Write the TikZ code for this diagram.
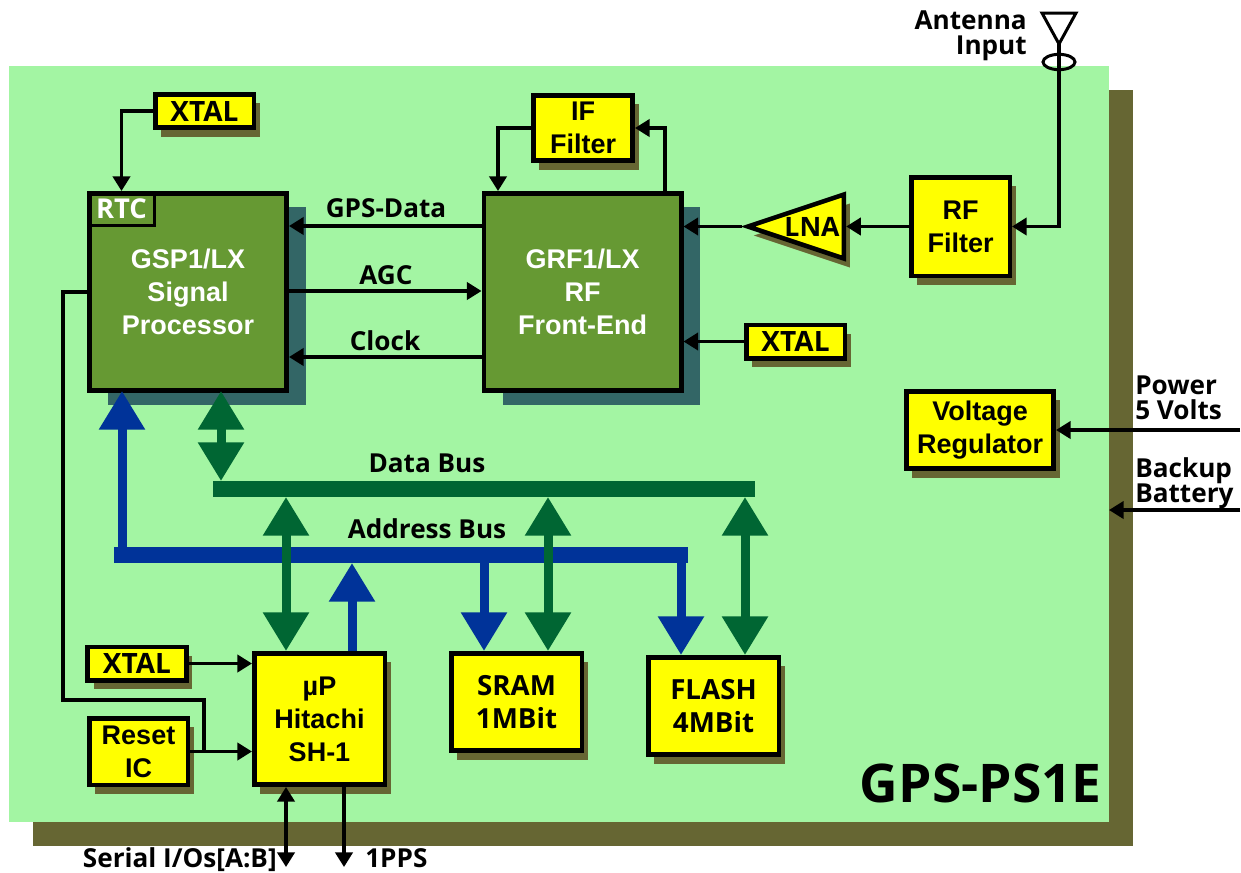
\documentclass[tikz,border=0pt]{standalone}
\usepackage{fontspec}
\setmainfont{Liberation Sans}
\newfontfamily\tagfont{Open Sans}
\usetikzlibrary{arrows.meta,shapes.geometric,shadows}

\definecolor{boardgreen}{HTML}{A3F5A3}
\definecolor{olive}{HTML}{666633}
\definecolor{chipgreen}{HTML}{669933}
\definecolor{chipshade}{HTML}{336666}
\definecolor{blockyellow}{HTML}{FFFF00}
\definecolor{databus}{HTML}{006633}
\definecolor{addrbus}{HTML}{003399}

\tikzset{
    box/.style={draw=black, line width=3.4pt, fill=blockyellow, inner sep=0pt, align=center,
        font=\bfseries\fontsize{20.25}{24.75}\selectfont,
        drop shadow={shadow xshift=4.5pt, shadow yshift=-6.75pt, fill=olive, opacity=1}},
    xtal/.style={box, minimum width=73.9pt, minimum height=25.1pt,
        font=\tagfont\bfseries\fontsize{21}{24}\selectfont},
    mem/.style={box, minimum width=97.9pt, minimum height=73.1pt,
        font=\tagfont\bfseries\fontsize{20.8}{24.75}\selectfont},
    chip/.style={draw=black, line width=3.4pt, fill=chipgreen, text=white, inner sep=0pt, align=center,
        minimum width=148.1pt, minimum height=148.1pt,
        font=\bfseries\fontsize{20.25}{24.75}\selectfont,
        drop shadow={shadow xshift=14.25pt, shadow yshift=-10.5pt, fill=chipshade, opacity=1}},
    tag/.style={inner sep=0pt, font=\tagfont\bfseries\fontsize{19.6}{18.75}\selectfont},
    sig/.style={line width=2.4pt, -{Triangle[width=13pt,length=11pt]}},
    sigboth/.style={sig, {Triangle[width=13pt,length=11pt]}-{Triangle[width=13pt,length=11pt]}},
    wide/.style={line width=6.75pt, {Triangle[width=33pt,length=29pt]}-{Triangle[width=33pt,length=29pt]}},
    widein/.style={line width=6.75pt, -{Triangle[width=33pt,length=29pt]}},
    busbar/.style={inner sep=0pt, outer sep=0pt, minimum height=12pt},
}

\begin{document}
\begin{tikzpicture}[x=.75pt, y=-.75pt]
    \useasboundingbox (0,0) rectangle (1241,872);

    \fill[olive]      (33,90) rectangle (1133,846);
    \fill[boardgreen] (9,66)  rectangle (1109,822);

    % chips
    \node[chip] (gsp) at (188,292)   {GSP1/LX\\Signal\\Processor};
    \node[chip] (grf) at (582.5,292) {GRF1/LX\\RF\\Front-End};
    \node[draw=black, line width=2.25pt, text=white, anchor=north west, inner sep=0pt,
        minimum width=49.5pt, minimum height=24.75pt, font=\tagfont\bfseries\fontsize{20.5}{20}\selectfont]
        (rtc) at (gsp.north west) {RTC};

    % yellow blocks
    \node[xtal] (xtalrtc) at (204.5,111)  {XTAL};
    \node[xtal] (xtalrf)  at (795.5,341.5) {XTAL};
    \node[xtal] (xtalup)  at (137,663.5)  {XTAL};
    \node[box, minimum width=74.6pt, minimum height=49.1pt]  (iffilt) at (583,128)     {IF\\Filter};
    \node[box, minimum width=73.9pt, minimum height=73.9pt]  (rffilt) at (960.5,226.5) {RF\\Filter};
    \node[box, minimum width=110.6pt, minimum height=58.1pt] (vreg)   at (980,430)     {Voltage\\Regulator};
    \node[box, minimum width=73.9pt, minimum height=49.9pt]  (reset)  at (138.5,751.5) {Reset\\IC};
    \node[box, minimum width=97.9pt, minimum height=98.6pt]  (up)     at (319.5,719)   {µP\\Hitachi\\SH-1};
    \node[mem] (sram)  at (516.5,702) {SRAM\\1MBit};
    \node[mem] (flash) at (713.5,706) {FLASH\\4MBit};

    % LNA
    \node[box, isosceles triangle, isosceles triangle stretches, shape border rotate=180,
        minimum width=48pt, minimum height=72pt, anchor=apex] (lna) at (742,226.5) {};
    \node[inner sep=0pt, font=\tagfont\bfseries\fontsize{20}{24}\selectfont] (lnatext) at (812,227) {LNA};

    % buses
    \node[busbar, fill=databus, minimum width=406.5pt] (dbus) at (484,489) {};
    \node[busbar, fill=addrbus, minimum width=430.5pt] (abus) at (401,555) {};

    % antenna
    \coordinate (anttip) at (1059,44);
    \draw[line width=2.25pt, miter limit=4] (1042,13) -- (1076,13) -- (anttip) -- cycle;
    \node[draw=black, line width=2.25pt, ellipse, inner sep=0pt, minimum width=24pt, minimum height=11.5pt]
        (antloop) at (1059,62) {};

    \coordinate (serialend) at (286,867);
    \coordinate (ppsend)    at (344,867);
    \coordinate (pwrin)     at (1240,430);
    \coordinate (batin)     at (1240,510);
    \coordinate (batpin)    at (1109,510);
    \coordinate (rstjoin)   at (204,752);

    \path[sig]
    (xtalrtc.west) edge [to path={-| (\tikztotarget)}] (rtc.north)
    (iffilt.west)  edge [to path={-| (\tikztotarget)}] (grf.north -| 498,0)
    (grf.north -| 665,0) edge [to path={|- (\tikztotarget)}] (iffilt.east)
    (anttip)       edge [to path={|- (\tikztotarget)}] (rffilt.east)
    (rffilt.west)  edge (lna.east |- rffilt.west)
    (lna.apex)     edge (grf.east |- lna.apex)
    (xtalrf.west)  edge (grf.east |- xtalrf.west)
    (grf.west |- 0,226) edge (gsp.east |- 0,226)
    (gsp.east |- 0,291) edge (grf.west |- 0,291)
    (grf.west |- 0,357) edge (gsp.east |- 0,357)
    (xtalup.east)  edge (up.west |- xtalup.east)
    (reset.east)   edge (up.west |- reset.east)
    (up.south -| ppsend) edge (ppsend)
    (pwrin)        edge (vreg.east)
    (batin)        edge (batpin);

    \draw[sigboth] (up.south -| serialend) -- (serialend);
    \draw[draw=black, line width=2.4pt] (gsp.west) -| (63,700) -| (rstjoin);

    % data bus arrows
    \draw[wide, databus] ([yshift=1.5pt]gsp.south -| 221,0) -- (dbus.north -| 221,0);
    \draw[wide, databus] (dbus.south -| 286,0) -- (up.north -| 286,0);
    \draw[wide, databus] (dbus.south -| 548,0) -- (sram.north -| 548,0);
    \draw[wide, databus] (dbus.south -| 745,0) -- (flash.north -| 745,0);

    % address bus arrows
    \draw[widein, addrbus] (abus.north -| 122,0) -- ([yshift=1.5pt]gsp.south -| 122,0);
    \draw[widein, addrbus] (up.north -| 352,0)   -- (abus.south -| 352,0);
    \draw[widein, addrbus] (abus.south -| 484,0) -- (sram.north -| 484,0);
    \draw[widein, addrbus] (abus.south -| 681,0) -- (flash.north -| 681,0);

    % labels
    \node[tag] (gpsdata) at (386,208) {GPS-Data};
    \node[tag] (agc)     at (386,275) {AGC};
    \node[tag] (clock)   at (385,341) {Clock};
    \node[tag] (dbuslab) at (427,463) {Data Bus};
    \node[tag] (abuslab) at (427,529) {Address Bus};
    \node[tag, align=right, anchor=east] (antlab) at (1027,36)   {Antenna\\Input};
    \node[tag, align=left, anchor=west]  (pwrlab) at (1135,398)  {Power\\5 Volts};
    \node[tag, align=left, anchor=west]  (batlab) at (1135,483)  {Backup\\Battery};
    \node[tag, anchor=east] (seriallab) at (277,860) {Serial I/Os[A:B]};
    \node[tag, anchor=west] (ppslab)    at (365,858) {1PPS};
    \node[inner sep=0pt, anchor=east, font=\tagfont\bfseries\fontsize{40}{44}\selectfont] (boardname) at (1102,783) {GPS-PS1E};
\end{tikzpicture}
\end{document}
